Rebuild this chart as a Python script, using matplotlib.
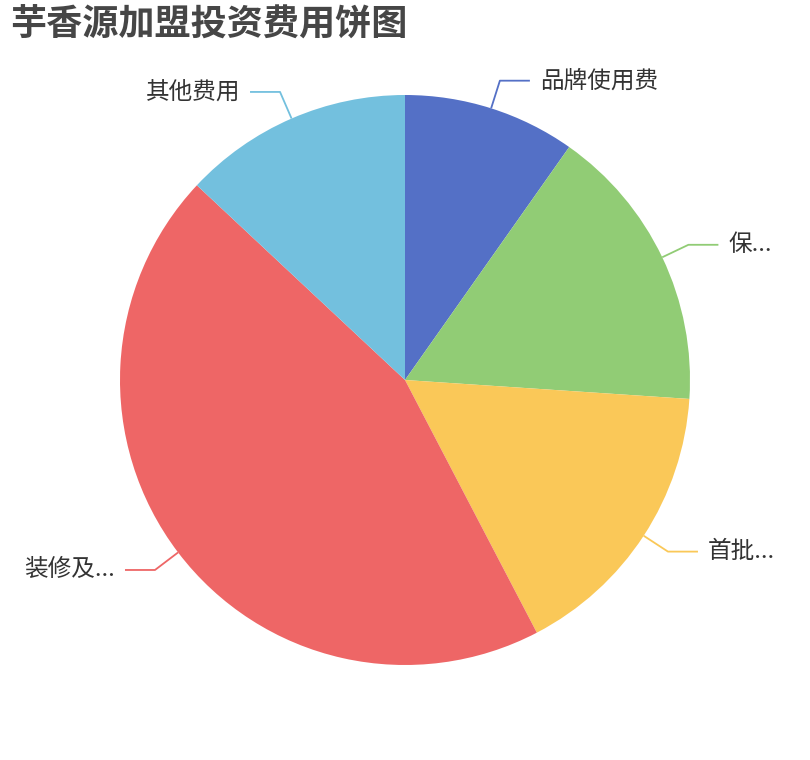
import numpy as np
import matplotlib
matplotlib.use("Agg")
import matplotlib.pyplot as plt

plt.rcParams['font.family'] = ['Noto Sans CJK SC', 'DejaVu Sans']

title = "芋香源加盟投资费用饼图"
labels = ["品牌使用费", "保...", "首批...", "装修及...", "其他费用"]
values = [3, 5, 5, 13.7, 4]
colors = ["#5470c6", "#91cc75", "#fac858", "#ee6666", "#73c0de"]

W, H = 810, 760
fig = plt.figure(figsize=(W / 100, H / 100), dpi=100)
ax = fig.add_axes([0, 0, 1, 1])
ax.set_xlim(0, W)
ax.set_ylim(0, H)
ax.set_aspect('equal')
ax.axis('off')

cx, cy, r = 405, H - 380, 285
wedges, _ = ax.pie(values, colors=colors, startangle=90, counterclock=False,
                   center=(cx, cy), radius=r, frame=True,
                   wedgeprops=dict(linewidth=0))
ax.set_xlim(0, W)
ax.set_ylim(0, H)
ax.axis('off')

len1, len2, gap = 29, 30, 10
for w, lab, col in zip(wedges, labels, colors):
    ang = np.deg2rad((w.theta1 + w.theta2) / 2)
    dx, dy = np.cos(ang), np.sin(ang)
    x0, y0 = cx + r * dx, cy + r * dy
    x1, y1 = cx + (r + len1) * dx, cy + (r + len1) * dy
    sgn = 1 if dx >= 0 else -1
    x2 = x1 + sgn * len2
    ax.plot([x0, x1, x2], [y0, y1, y1], color=col, lw=1.3, solid_capstyle='butt')
    ax.text(x2 + sgn * gap, y1, lab, ha='left' if sgn > 0 else 'right',
            va='center', fontsize=17, color='#333333')

ax.text(10, H - 25, title, ha='left', va='center', fontsize=26,
        fontweight='bold', color='#464646')

fig.savefig("out.png", dpi=100, facecolor='white')
